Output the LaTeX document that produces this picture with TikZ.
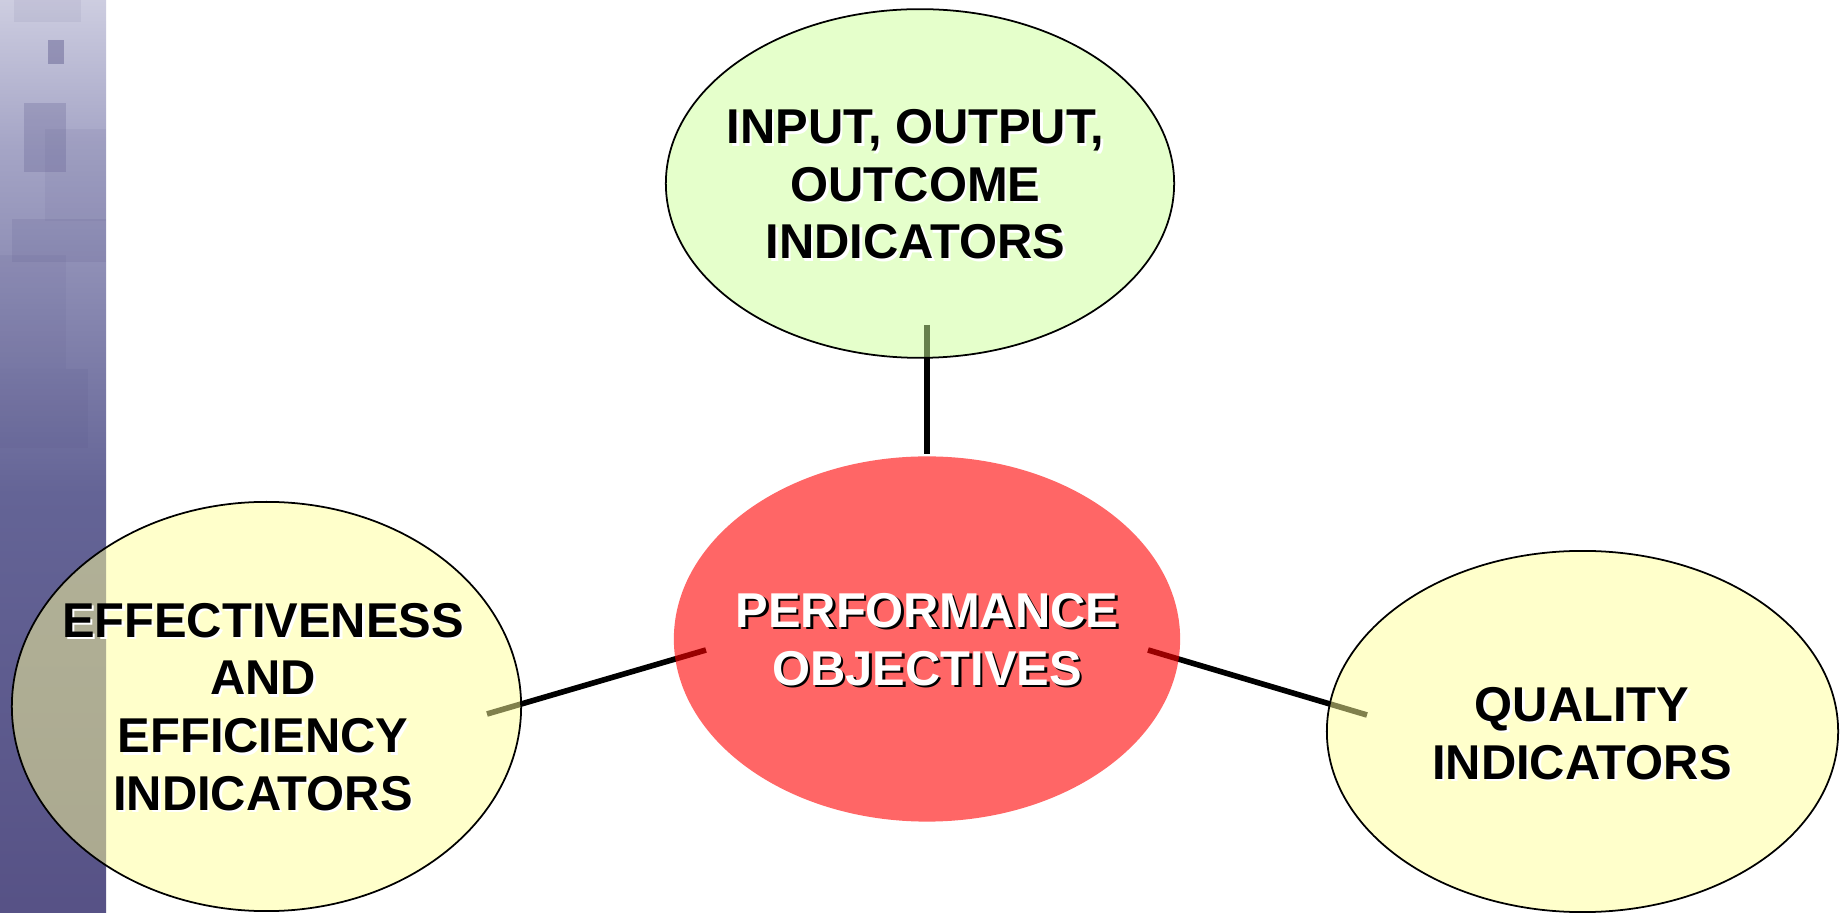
\documentclass[tikz,border=0pt]{standalone}
\usepackage{fontspec}
\setmainfont{Liberation Sans}
\usetikzlibrary{shapes.geometric,calc}

\definecolor{stripA}{RGB}{72,62,116}
\definecolor{stripB}{RGB}{100,100,150}
\definecolor{stripC}{RGB}{165,165,198}
\definecolor{stripD}{RGB}{220,220,234}
\definecolor{stripE}{RGB}{248,248,251}
\definecolor{stripSq}{RGB}{80,76,130}
\definecolor{greenFill}{RGB}{204,255,153}
\definecolor{yellowFill}{RGB}{255,255,153}
\definecolor{redFill}{RGB}{255,0,0}

\pgfdeclareverticalshading{stripshade}{100bp}{%
  color(0bp)=(stripA); color(48bp)=(stripB); color(67bp)=(stripC);
  color(78bp)=(stripD); color(89bp)=(stripE); color(100bp)=(white)}

\pgfdeclarelayer{band}
\pgfdeclarelayer{links}
\pgfsetlayers{band,links,main}

\tikzset{
  bubble/.style={ellipse, draw=black, line width=0.5pt, inner sep=0pt, outer sep=0pt},
  core/.style={ellipse, draw=none, inner sep=0pt, outer sep=0pt},
  link/.style={draw=black, line width=1.6pt},
  lbl/.style={align=center, inner sep=0pt, font=\bfseries\fontsize{13.9}{16.4}\selectfont},
  darklbl/.style={lbl, text=black},
  darkshadow/.style={lbl, text=white},
  lightlbl/.style={lbl, text=white},
  lightshadow/.style={lbl, text=black},
}

\begin{document}
\begin{tikzpicture}[x=0.01cm, y=-0.01cm]
\useasboundingbox (0,0) rectangle (1845,913);

% side band with its squares
\begin{pgfonlayer}{band}
\fill[white] (0,0) rectangle (1845,913);
\shade[shading=stripshade] (0,0) rectangle (106,913);
\fill[stripSq, opacity=0.08] (14,0) rectangle (81,22);
\fill[stripSq, opacity=0.40] (48,40) rectangle (64,64);
\fill[stripSq, opacity=0.22] (24,103) rectangle (66,172);
\fill[stripSq, opacity=0.08] (45,129) rectangle (106,221);
\fill[stripSq, opacity=0.12] (12,219) rectangle (106,262);
\fill[stripSq, opacity=0.08] (0,255) rectangle (66,369);
\fill[stripSq, opacity=0.10] (0,369) rectangle (88,448);
\end{pgfonlayer}

% translucent shapes
\node[bubble, fill=greenFill, fill opacity=0.5, minimum width=5.08cm, minimum height=3.485cm] (io) at (920,183.5) {};
\node[core, fill=redFill, fill opacity=0.6, minimum width=5.06cm, minimum height=3.65cm] (po) at (927,639) {};
\node[bubble, fill=yellowFill, fill opacity=0.5, minimum width=5.09cm, minimum height=4.09cm] (eff) at (266.5,706.5) {};
\node[bubble, fill=yellowFill, fill opacity=0.5, minimum width=5.11cm, minimum height=3.61cm] (qi) at (1582.5,731.5) {};

% connector ends
\coordinate (ioEnd) at ($(io.center)+(7,141.5)$);
\coordinate (poTop) at ($(po.north)+(0,-2)$);
\coordinate (poLeft) at ($(po.center)+(-221,11)$);
\coordinate (poRight) at ($(po.center)+(221,11)$);
\coordinate (effEnd) at ($(eff.center)+(220.5,7.5)$);
\coordinate (qiEnd) at ($(qi.center)+(-215.5,-16.5)$);

% connectors, laid under the translucent shapes
\begin{pgfonlayer}{links}
\draw[link] (ioEnd) -- (poTop);
\draw[link] (poLeft) -- (effEnd);
\draw[link] (poRight) -- (qiEnd);
\end{pgfonlayer}

% labels with their drop shadows
\node[darkshadow] (ioSh) at ($(io.center)+(-2,3.5)$) {INPUT, OUTPUT,\\OUTCOME\\INDICATORS};
\node[darklbl] (ioTxt) at ($(io.center)+(-4.5,1)$) {INPUT, OUTPUT,\\OUTCOME\\INDICATORS};

\node[lightshadow] (poSh) at ($(po.center)+(2.5,3)$) {PERFORMANCE\\OBJECTIVES};
\node[lightlbl] (poTxt) at ($(po.center)+(0,0.5)$) {PERFORMANCE\\OBJECTIVES};

\node[darkshadow] (effSh) at ($(eff.center)+(-1,3)$) {EFFECTIVENESS\\AND\\EFFICIENCY\\INDICATORS};
\node[darklbl] (effTxt) at ($(eff.center)+(-3.5,0.5)$) {EFFECTIVENESS\\AND\\EFFICIENCY\\INDICATORS};

\node[darkshadow] (qiSh) at ($(qi.center)+(2,4.5)$) {QUALITY\\INDICATORS};
\node[darklbl] (qiTxt) at ($(qi.center)+(-0.5,2)$) {QUALITY\\INDICATORS};
\end{tikzpicture}
\end{document}
